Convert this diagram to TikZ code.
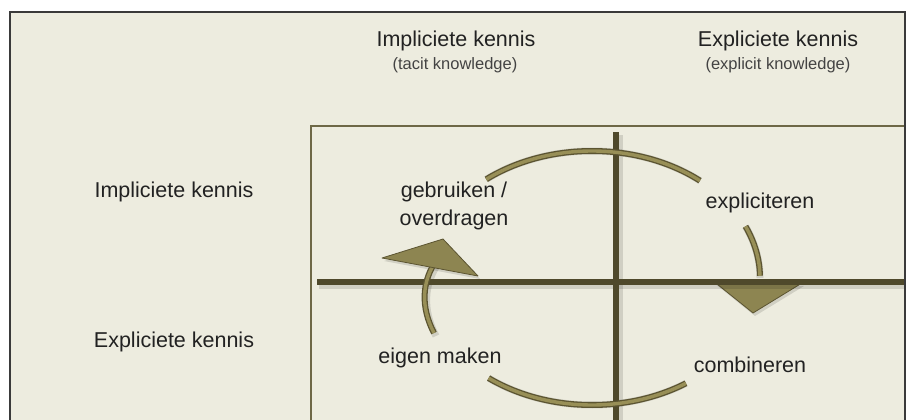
\documentclass[tikz,border=0pt]{standalone}
\usepackage{fontspec}
\setmainfont{Liberation Sans}
\usetikzlibrary{calc}

\definecolor{paper}{HTML}{EDECDF}
\definecolor{framegray}{HTML}{3A3A3A}
\definecolor{boxline}{HTML}{6E6846}
\definecolor{axis}{HTML}{4F492B}
\definecolor{arcedge}{HTML}{5B5431}
\definecolor{arcfill}{HTML}{988F57}
\definecolor{headfill}{HTML}{8D8551}
\definecolor{ink}{HTML}{222222}

\tikzset{
  label/.style={font=\fontsize{21.5}{26}\selectfont, text=ink, inner sep=0pt, anchor=base},
  sublabel/.style={font=\fontsize{16.5}{20}\selectfont, text=ink!85, inner sep=0pt, anchor=base},
  axisline/.style={draw=axis, line width=6pt},
  axisshadow/.style={draw=black, line width=8pt, opacity=0.12},
  cyclearc/.style={draw=arcedge, line width=1.3pt, double=arcfill, double distance=3.4pt},
  arcshadow/.style={draw=black, line width=7pt, opacity=0.12},
  headshape/.style={fill=headfill, draw=arcedge, line width=0.8pt, line join=round},
  headshadow/.style={fill=black, opacity=0.12}
}

\begin{document}
\begin{tikzpicture}[x=1pt, y=-1pt]
  \useasboundingbox (0,0) rectangle (908,420);
  \clip (0,0) rectangle (908,420);

  % page and outer frame
  \fill[white] (0,0) rectangle (908,420);
  \fill[paper] (10,12) rectangle (905,440);
  \draw[framegray, line width=2pt] (10,440) -- (10,12) -- (905,12) -- (905,440);

  % inner matrix box
  \draw[boxline, line width=2pt] (311,440) -- (311,126) -- (904,126);

  % centre of the knowledge cycle
  \coordinate (cyc) at (592,278);

  % shadows of the cycle
  \begin{scope}[shift={(2,3)}]
    \draw[arcshadow] (cyc) ++(-129:168 and 127) arc[start angle=-129, end angle=-50, x radius=168, y radius=127];
    \draw[arcshadow] (cyc) ++(-24:168 and 127) arc[start angle=-24, end angle=0, x radius=168, y radius=127];
    \draw[arcshadow] (cyc) ++(56:168 and 127) arc[start angle=56, end angle=128, x radius=168, y radius=127];
    \draw[arcshadow] (434,333) .. controls (420,306) and (423,282) .. (434,264);
    \fill[headshadow] (712,280) -- (802,283) -- (753,313) -- cycle;
    \fill[headshadow] (382,258) -- (478,276) -- (443,239) -- cycle;
  \end{scope}

  % downward arrowhead sits under the horizontal axis
  \draw[headshape] (712,280) -- (802,283) -- (753,313) -- cycle;

  % axes with soft shadow
  \draw[axisshadow] (319,285) -- (904,285);
  \draw[axisshadow] (619,135) -- (619,430);
  \draw[axisline] (317,282) -- (904,282);
  \draw[axisline] (616,132) -- (616,430);

  % cycle arcs
  \draw[cyclearc] (cyc) ++(-129:168 and 127) arc[start angle=-129, end angle=-50, x radius=168, y radius=127];
  \draw[cyclearc] (cyc) ++(-24:168 and 127) arc[start angle=-24, end angle=-1, x radius=168, y radius=127];
  \draw[cyclearc] (cyc) ++(56:168 and 127) arc[start angle=56, end angle=128, x radius=168, y radius=127];
  \draw[cyclearc] (434,333) .. controls (420,306) and (423,282) .. (434,264);

  % upward arrowhead
  \draw[headshape] (382,258) -- (478,276) -- (443,239) -- cycle;

  % column headings
  \node[label]    (colimp)    at (456,47) {Impliciete kennis};
  \node[sublabel] (colimpsub) at (455,70) {(tacit knowledge)};
  \node[label]    (colexp)    at (778,47) {Expliciete kennis};
  \node[sublabel] (colexpsub) at (778,70) {(explicit knowledge)};

  % row headings
  \node[label] (rowimp) at (174,197) {Impliciete kennis};
  \node[label] (rowexp) at (174,347) {Expliciete kennis};

  % quadrant labels
  \node[label] (gebruiken)  at (454,197) {gebruiken /};
  \node[label] (overdragen) at (454,225) {overdragen};
  \node[label] (expliciteren) at (760,208) {expliciteren};
  \node[label] (eigenmaken) at (440,363) {eigen maken};
  \node[label] (combineren) at (750,372) {combineren};
\end{tikzpicture}
\end{document}
